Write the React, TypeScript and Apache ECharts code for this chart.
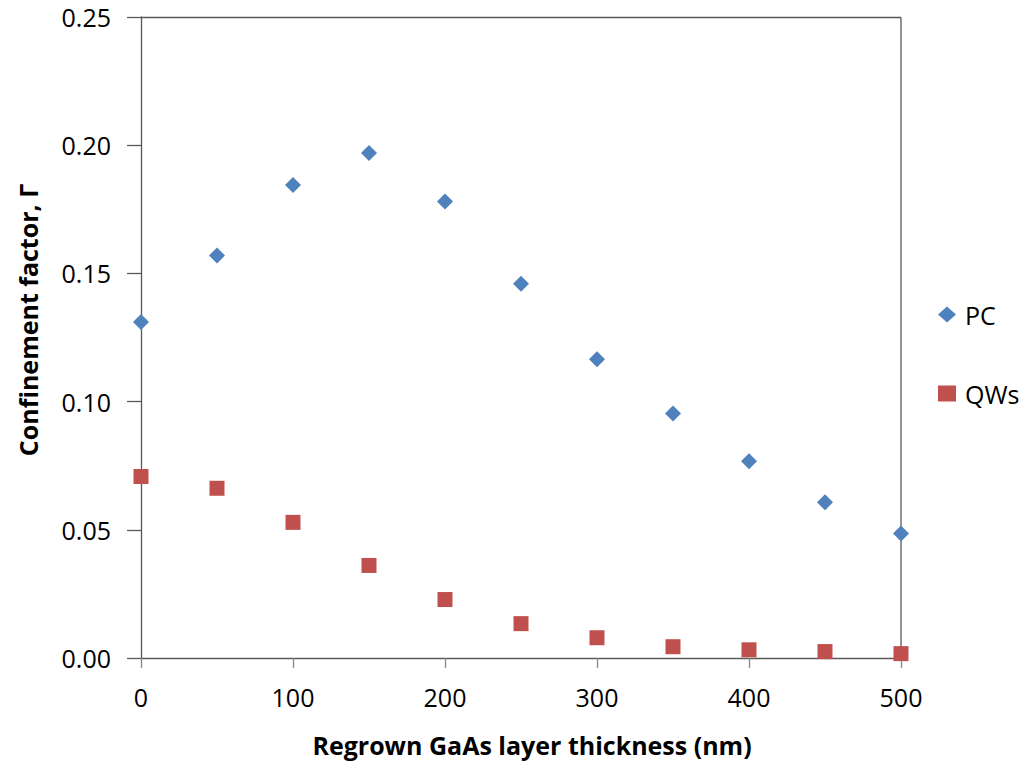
import React, { useEffect, useRef } from "react";
import * as echarts from "echarts";

const thickness = [0, 50, 100, 150, 200, 250, 300, 350, 400, 450, 500];
const pcValues = [0.131, 0.157, 0.1845, 0.197, 0.178, 0.146, 0.1165, 0.0954, 0.0767, 0.0607, 0.0486];
const qwValues = [0.0708, 0.0662, 0.0529, 0.0361, 0.0228, 0.0134, 0.0079, 0.0044, 0.0032, 0.0025, 0.0017];
const seriesNames = ["PC", "QWs"];
const xTitle = "Regrown GaAs layer thickness (nm)";
const yTitle = "Confinement factor, Γ";

const FONT = "'Open Sans', 'Liberation Sans', sans-serif";

export default function App() {
  const ref = useRef<HTMLDivElement>(null);
  useEffect(() => {
    if (!ref.current) return;
    const chart = echarts.init(ref.current, null, { renderer: "svg" });
    chart.setOption({
      animation: false,
      backgroundColor: "#ffffff",
      grid: { left: 141, right: 131, top: 17, bottom: 104, containLabel: false },
      legend: {
        orient: "vertical",
        left: 933,
        top: 297,
        itemGap: 54,
        itemWidth: 18,
        itemHeight: 16,
        textStyle: { fontFamily: FONT, fontSize: 25, color: "#000", padding: [0, 0, 0, 4] },
        data: [
          { name: seriesNames[0], icon: "diamond" },
          { name: seriesNames[1], icon: "rect" },
        ],
      },
      xAxis: {
        type: "value",
        min: 0,
        max: 500,
        interval: 100,
        axisLine: { show: true, lineStyle: { color: "#595959", width: 1.3 } },
        axisTick: { show: true, length: 10, inside: false, lineStyle: { color: "#888", width: 1.3 } },
        axisLabel: { fontFamily: FONT, fontSize: 25, color: "#000", margin: 26 },
        splitLine: { show: false },
      },
      yAxis: {
        type: "value",
        min: 0,
        max: 0.25,
        interval: 0.05,
        axisLine: { show: true, lineStyle: { color: "#595959", width: 1.3 } },
        axisTick: { show: true, length: 14, inside: false, lineStyle: { color: "#595959", width: 1.3 } },
        axisLabel: {
          fontFamily: FONT,
          fontSize: 25,
          color: "#000",
          margin: 30,
          formatter: (v: number) => v.toFixed(2),
        },
        splitLine: { show: false },
      },
      graphic: [
        {
          type: "line",
          shape: { x1: 141, y1: 17.5, x2: 901, y2: 17.5 },
          style: { stroke: "#595959", lineWidth: 1.3 },
          silent: true,
        },
        {
          type: "line",
          shape: { x1: 901, y1: 17.5, x2: 901, y2: 658 },
          style: { stroke: "#595959", lineWidth: 1.3 },
          silent: true,
        },
        {
          type: "text",
          x: 532,
          y: 745,
          style: {
            text: xTitle,
            fontFamily: FONT,
            fontSize: 25,
            fontWeight: "bold",
            fill: "#000",
            align: "center",
            verticalAlign: "middle",
          },
        },
        {
          type: "text",
          x: 28,
          y: 320,
          rotation: Math.PI / 2,
          style: {
            text: yTitle,
            fontFamily: FONT,
            fontSize: 25,
            fontWeight: "bold",
            fill: "#000",
            align: "center",
            verticalAlign: "middle",
          },
        },
      ],
      series: [
        {
          name: seriesNames[0],
          type: "scatter",
          symbol: "diamond",
          symbolSize: [16, 16],
          itemStyle: { color: "#4F81BD", opacity: 1 },
          data: thickness.map((t, i) => [t, pcValues[i]]),
          z: 3,
        },
        {
          name: seriesNames[1],
          type: "scatter",
          symbol: "rect",
          symbolSize: 15,
          itemStyle: { color: "#C0504D", opacity: 1 },
          data: thickness.map((t, i) => [t, qwValues[i]]),
          z: 3,
        },
      ],
    });
    return () => chart.dispose();
  }, []);
  return <div ref={ref} style={{ width: 1032, height: 762, position: "absolute", left: 0, top: 0 }} />;
}
